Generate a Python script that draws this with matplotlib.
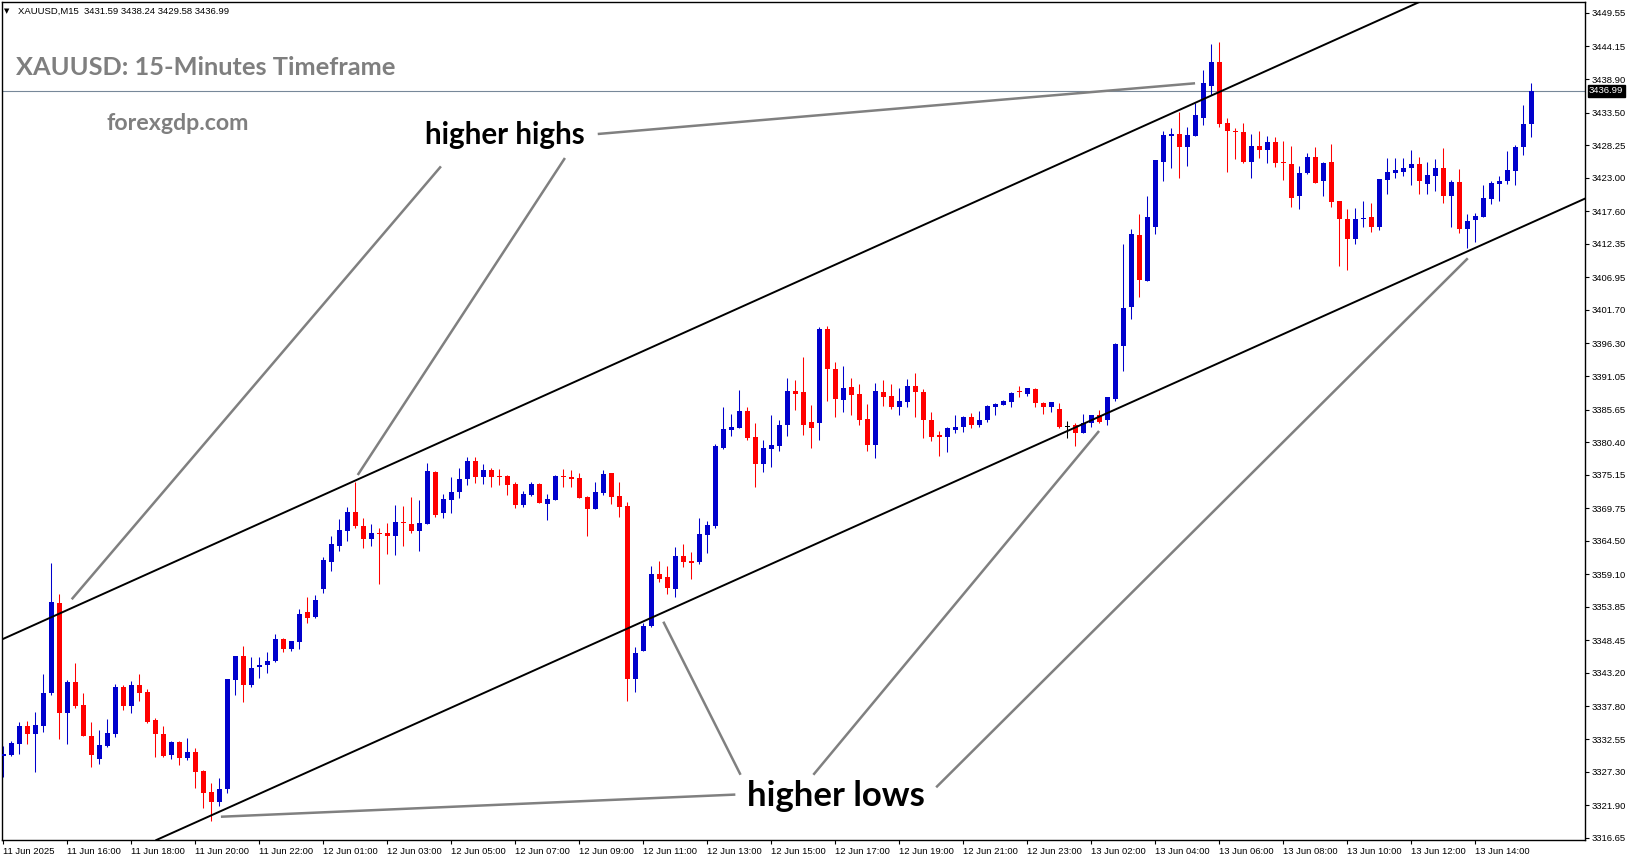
import matplotlib
matplotlib.use('Agg')
import matplotlib.pyplot as plt
import matplotlib.transforms as mtransforms
import numpy as np

W, H = 1631, 861
DPI = 100

# XAUUSD M15 bars, first bar 11 Jun 14:00
opens = [3329.8, 3330.0, 3331.8, 3334.6, 3333.3, 3334.6, 3339.9, 3354.5, 3336.8, 3341.7,
         3338.0, 3333.0, 3329.3, 3331.4, 3333.3, 3341.0, 3337.8, 3341.3, 3340.1, 3335.6,
         3333.4, 3329.9, 3332.1, 3329.5, 3330.5, 3327.4, 3324.0, 3322.4, 3324.5, 3342.1,
         3345.9, 3341.3, 3344.1, 3344.5, 3345.2, 3348.7, 3347.0, 3348.2, 3353.0, 3352.2,
         3356.8, 3361.1, 3363.6, 3366.1, 3369.1, 3366.8, 3364.8, 3365.7, 3365.7, 3365.3,
         3367.5, 3367.2, 3366.0, 3367.2, 3375.6, 3368.9, 3371.0, 3372.3, 3374.4, 3377.3,
         3374.7, 3375.9, 3374.9, 3374.9, 3373.6, 3370.2, 3371.9, 3373.6, 3370.5, 3371.1,
         3374.9, 3374.8, 3374.6, 3371.6, 3369.6, 3372.2, 3375.4, 3371.7, 3370.1, 3342.3,
         3346.8, 3350.7, 3359.1, 3358.6, 3356.7, 3362.0, 3361.2, 3361.0, 3365.5, 3366.9,
         3379.4, 3382.4, 3382.6, 3385.4, 3381.2, 3376.9, 3379.3, 3379.8, 3383.1, 3388.6,
         3388.5, 3383.6, 3383.5, 3398.6, 3392.1, 3387.2, 3389.2, 3388.2, 3384.1, 3380.0,
         3388.5, 3387.8, 3386.0, 3386.9, 3389.4, 3388.5, 3384.0, 3381.5, 3381.3, 3382.4,
         3382.9, 3384.4, 3383.2, 3383.9, 3386.0, 3386.4, 3386.9, 3388.5, 3388.2, 3389.0,
         3386.7, 3386.1, 3385.7, 3382.8, 3383.1, 3381.8, 3383.5, 3384.7, 3384.0, 3387.4,
         3395.9, 3402.1, 3413.8, 3406.4, 3415.1, 3425.6, 3429.8, 3430.0, 3427.9, 3429.7,
         3432.7, 3437.8, 3441.6, 3431.8, 3430.6, 3430.3, 3425.6, 3428.1, 3427.4, 3428.7,
         3425.5, 3425.2, 3420.1, 3423.7, 3426.3, 3422.4, 3425.5, 3419.2, 3416.4, 3413.2,
         3416.3, 3416.6, 3415.0, 3422.7, 3423.8, 3424.0, 3424.5, 3425.2, 3422.0, 3423.3,
         3424.6, 3420.1, 3422.3, 3414.8, 3416.2, 3416.7, 3419.6, 3422.0, 3422.5, 3424.1,
         3427.9, 3431.59]
highs = [3331.4, 3332.2, 3335.3, 3335.5, 3336.9, 3343.0, 3360.9, 3355.9, 3342.0, 3344.8,
         3339.9, 3335.3, 3334.0, 3335.8, 3341.4, 3341.2, 3341.9, 3343.0, 3340.6, 3335.9,
         3334.7, 3332.2, 3332.2, 3332.7, 3331.1, 3327.5, 3325.5, 3326.2, 3342.3, 3346.0,
         3347.5, 3345.7, 3345.7, 3346.6, 3349.5, 3348.8, 3348.4, 3353.5, 3355.5, 3355.7,
         3361.9, 3365.3, 3368.0, 3370.0, 3374.0, 3368.1, 3367.2, 3366.5, 3367.4, 3370.3,
         3370.1, 3371.6, 3371.1, 3377.0, 3375.7, 3372.0, 3374.8, 3376.3, 3378.0, 3378.0,
         3376.9, 3376.3, 3376.1, 3375.1, 3374.0, 3372.6, 3374.0, 3373.8, 3372.0, 3375.1,
         3376.1, 3375.9, 3375.4, 3371.7, 3373.9, 3375.9, 3375.5, 3374.0, 3370.8, 3347.4,
         3351.2, 3360.4, 3361.2, 3360.4, 3363.5, 3363.9, 3362.7, 3368.2, 3367.7, 3380.1,
         3386.1, 3384.9, 3388.8, 3386.0, 3383.5, 3380.7, 3384.8, 3384.0, 3390.7, 3390.4,
         3394.1, 3386.3, 3398.9, 3399.1, 3393.3, 3392.7, 3390.8, 3389.7, 3386.6, 3389.9,
         3390.4, 3389.8, 3389.1, 3390.6, 3391.5, 3388.9, 3385.3, 3382.2, 3382.8, 3384.7,
         3384.6, 3385.1, 3385.4, 3386.4, 3386.7, 3387.2, 3388.5, 3389.4, 3389.1, 3389.1,
         3386.9, 3386.8, 3386.7, 3383.8, 3383.4, 3385.0, 3384.8, 3385.6, 3387.6, 3396.3,
         3412.4, 3414.7, 3417.2, 3420.1, 3425.9, 3430.6, 3431.0, 3433.6, 3431.2, 3435.0,
         3440.3, 3444.5, 3444.8, 3432.6, 3431.0, 3431.8, 3430.0, 3430.6, 3429.8, 3429.5,
         3428.9, 3428.1, 3424.9, 3427.0, 3427.9, 3425.5, 3428.5, 3419.3, 3417.9, 3418.2,
         3419.2, 3418.9, 3422.8, 3426.2, 3426.2, 3426.2, 3427.5, 3426.3, 3425.5, 3426.0,
         3427.8, 3422.6, 3424.4, 3417.2, 3417.3, 3421.8, 3422.5, 3423.3, 3427.3, 3428.2,
         3434.7, 3438.24]
lows = [3326.4, 3329.8, 3330.1, 3331.8, 3327.3, 3333.7, 3339.7, 3332.6, 3331.8, 3337.6,
        3333.0, 3328.1, 3328.6, 3331.3, 3332.8, 3337.2, 3336.8, 3338.7, 3335.2, 3329.7,
        3329.7, 3329.3, 3328.3, 3329.1, 3324.7, 3321.5, 3319.4, 3321.8, 3323.9, 3339.7,
        3338.5, 3341.0, 3342.4, 3343.2, 3344.9, 3346.5, 3346.8, 3347.1, 3351.3, 3352.0,
        3356.1, 3359.7, 3362.9, 3364.5, 3366.6, 3363.4, 3363.6, 3357.6, 3362.4, 3362.2,
        3363.6, 3365.7, 3362.8, 3367.2, 3368.4, 3368.2, 3369.0, 3371.4, 3373.5, 3373.8,
        3373.6, 3373.2, 3373.5, 3371.8, 3369.7, 3370.0, 3371.7, 3370.6, 3367.9, 3371.1,
        3373.2, 3373.2, 3371.4, 3365.3, 3369.6, 3371.8, 3370.5, 3368.4, 3338.7, 3340.2,
        3346.8, 3350.6, 3357.8, 3356.0, 3355.5, 3360.2, 3358.3, 3360.8, 3362.6, 3366.6,
        3379.3, 3381.4, 3382.6, 3380.7, 3373.2, 3375.6, 3376.4, 3379.0, 3381.4, 3385.6,
        3381.6, 3379.5, 3380.8, 3387.1, 3384.5, 3385.3, 3384.7, 3383.2, 3378.9, 3377.9,
        3386.2, 3385.7, 3384.7, 3386.1, 3384.5, 3381.1, 3380.6, 3378.2, 3378.8, 3381.9,
        3382.1, 3382.6, 3382.9, 3383.7, 3384.8, 3386.3, 3386.1, 3387.7, 3387.9, 3386.0,
        3385.0, 3385.3, 3382.6, 3381.0, 3379.8, 3381.8, 3382.8, 3383.5, 3383.2, 3387.0,
        3391.9, 3400.3, 3403.8, 3406.4, 3414.0, 3422.4, 3424.6, 3422.9, 3424.9, 3429.7,
        3431.5, 3436.3, 3431.2, 3424.0, 3426.0, 3425.3, 3423.0, 3426.2, 3425.4, 3424.8,
        3422.6, 3418.3, 3418.0, 3423.6, 3422.2, 3420.1, 3418.3, 3408.7, 3408.1, 3412.4,
        3415.1, 3414.3, 3414.6, 3420.3, 3423.0, 3423.3, 3421.9, 3420.4, 3420.3, 3420.9,
        3419.0, 3415.0, 3414.1, 3411.6, 3412.7, 3416.7, 3418.8, 3419.3, 3422.0, 3421.9,
        3426.7, 3429.58]
closes = [3330.1, 3331.9, 3334.6, 3333.3, 3334.8, 3340.0, 3354.6, 3336.8, 3341.7, 3337.9,
          3333.1, 3330.0, 3331.6, 3333.6, 3340.9, 3337.8, 3341.2, 3340.0, 3335.3, 3333.3,
          3329.8, 3332.1, 3329.5, 3330.5, 3327.2, 3323.9, 3322.4, 3324.5, 3342.2, 3345.9,
          3341.3, 3344.0, 3344.5, 3345.1, 3348.7, 3347.0, 3348.3, 3352.7, 3352.0, 3355.0,
          3361.4, 3364.0, 3366.2, 3369.1, 3366.9, 3364.8, 3365.8, 3365.6, 3365.2, 3367.5,
          3367.3, 3366.0, 3367.4, 3375.7, 3368.7, 3371.2, 3372.4, 3374.5, 3377.3, 3374.7,
          3375.9, 3374.8, 3374.8, 3373.5, 3370.3, 3372.0, 3373.6, 3370.6, 3371.2, 3374.9,
          3374.7, 3374.5, 3371.4, 3369.6, 3372.4, 3375.3, 3371.6, 3370.0, 3342.3, 3346.4,
          3350.8, 3359.1, 3358.4, 3356.9, 3362.0, 3361.1, 3360.9, 3365.6, 3367.0, 3379.8,
          3382.5, 3382.9, 3385.4, 3381.1, 3376.8, 3379.4, 3379.9, 3383.2, 3388.6, 3388.2,
          3383.2, 3382.7, 3398.6, 3392.1, 3387.4, 3389.1, 3388.0, 3384.0, 3380.0, 3388.6,
          3387.7, 3386.0, 3387.0, 3389.4, 3388.5, 3383.9, 3381.3, 3381.3, 3382.6, 3382.8,
          3384.4, 3383.1, 3384.0, 3386.2, 3386.5, 3387.1, 3388.3, 3388.4, 3389.1, 3386.7,
          3386.1, 3386.8, 3382.8, 3382.8, 3381.8, 3383.5, 3384.8, 3383.7, 3387.6, 3396.2,
          3402.0, 3413.9, 3406.6, 3416.7, 3425.8, 3429.9, 3430.0, 3427.9, 3429.9, 3433.1,
          3438.3, 3441.7, 3431.7, 3430.6, 3430.3, 3425.5, 3428.1, 3427.4, 3428.7, 3425.4,
          3425.3, 3419.8, 3423.7, 3426.3, 3422.2, 3425.3, 3419.1, 3416.4, 3413.2, 3416.4,
          3416.5, 3415.0, 3422.8, 3423.9, 3424.2, 3424.6, 3425.2, 3422.4, 3423.4, 3424.6,
          3420.1, 3422.3, 3414.8, 3416.0, 3416.8, 3419.7, 3422.2, 3422.5, 3424.2, 3428.0,
          3431.6, 3436.99]

price_ticks = [3449.55, 3444.15, 3438.90, 3433.50, 3428.25, 3423.00, 3417.60, 3412.35,
               3406.95, 3401.70, 3396.30, 3391.05, 3385.65, 3380.40, 3375.15, 3369.75,
               3364.50, 3359.10, 3353.85, 3348.45, 3343.20, 3337.80, 3332.55, 3327.30,
               3321.90, 3316.65]
time_labels = ['11 Jun 2025', '11 Jun 16:00', '11 Jun 18:00', '11 Jun 20:00', '11 Jun 22:00',
               '12 Jun 01:00', '12 Jun 03:00', '12 Jun 05:00', '12 Jun 07:00', '12 Jun 09:00',
               '12 Jun 11:00', '12 Jun 13:00', '12 Jun 15:00', '12 Jun 17:00', '12 Jun 19:00',
               '12 Jun 21:00', '12 Jun 23:00', '13 Jun 02:00', '13 Jun 04:00', '13 Jun 06:00',
               '13 Jun 08:00', '13 Jun 10:00', '13 Jun 12:00', '13 Jun 14:00']
bars_per_label = 8
last_price = 3436.99
header = 'XAUUSD,M15  3431.59 3438.24 3429.58 3436.99'

# channel trendlines (bar index, price)
upper_channel = [(0.0, 3348.7), (169.2, 3446.8)]
lower_channel = [(19.6, 3316.55), (189.6, 3414.95)]

# pointer lines (bar index, price)
hh_pointers = [[(74.3, 3430.05), (148.96, 3438.22)],
               [(54.7, 3424.83), (8.55, 3355.07)],
               [(70.2, 3426.18), (44.3, 3375.1)]]
hl_pointers = [[(27.2, 3320.03), (91.5, 3323.6)],
               [(82.5, 3351.46), (92.15, 3326.79)],
               [(101.25, 3326.79), (136.96, 3382.19)],
               [(116.6, 3324.77), (183.05, 3410.02)]]

BLUE = '#0000CC'
RED = '#FF0000'
GRAY = '#808080'

plt.rcParams['font.family'] = ['Liberation Sans', 'DejaVu Sans']


def fx(px):
    return px / W


def fy(py):
    return 1 - py / H


fig = plt.figure(figsize=(W / DPI, H / DPI), dpi=DPI)
fig.patch.set_facecolor('white')
ax = fig.add_axes([fx(2.3), fy(840), (1585 - 2.3) / W, 838 / H])

n = len(opens)
x = np.arange(n)
o = np.array(opens)
c = np.array(closes)
colors = np.where(c > o, BLUE, np.where(c < o, RED, 'black'))

ax.vlines(x, lows, highs, colors=colors, lw=0.75, zorder=2)
body_lo = np.minimum(o, c)
body_h = np.maximum(np.abs(c - o), 0.17)
ax.bar(x, body_h, bottom=body_lo, width=0.62, color=colors, linewidth=0, zorder=3)

ax.axhline(last_price, color='#778899', lw=0.8, zorder=1)

ax.axline(upper_channel[0], upper_channel[1], color='black', lw=1.4, zorder=4)
ax.axline(lower_channel[0], lower_channel[1], color='black', lw=1.4, zorder=4)

for (p1, p2) in hh_pointers + hl_pointers:
    ax.plot([p1[0], p2[0]], [p1[1], p2[1]], color=GRAY, lw=1.8,
            solid_capstyle='butt', zorder=5)

ax.set_xlim(-0.125, 197.7)
ax.set_ylim(3316.28, 3451.32)

ax.yaxis.tick_right()
ax.set_yticks(price_ticks)
ax.set_yticklabels([f'{v:.2f}' for v in price_ticks])
ax.tick_params(axis='y', direction='out', length=3, width=0.8, pad=2,
               labelsize=6.8, colors='black')

xt = list(range(0, bars_per_label * len(time_labels), bars_per_label))
ax.set_xticks(xt)
ax.set_xticklabels(time_labels)
ax.tick_params(axis='x', direction='out', length=3, width=0.8, pad=2,
               labelsize=6.8, colors='black')
for lbl in ax.get_xticklabels():
    lbl.set_ha('left')

for s in ax.spines.values():
    s.set_color('black')
    s.set_linewidth(1.0)

# current price tag
trans = mtransforms.blended_transform_factory(ax.transAxes, ax.transData)
ax.text(1.0025, last_price, f'{last_price:.2f}', transform=trans, ha='left', va='center',
        color='white', fontsize=6.8, clip_on=False,
        bbox=dict(boxstyle='square,pad=0.15', fc='black', ec='black'))

# header and captions
fig.text(fx(4), fy(11), '\u25bc', fontsize=5, va='center', ha='left', color='black',
         family=['DejaVu Sans'])
fig.text(fx(18), fy(11), header, fontsize=6.8, va='center', ha='left', color='black')
fig.text(fx(16.5), fy(75), 'XAUUSD: 15-Minutes Timeframe', fontsize=18.3, fontweight='bold',
         color='#7f7f7f', family=['Lato', 'DejaVu Sans'], va='baseline', ha='left')
fig.text(fx(106.5), fy(130), 'forexgdp.com', fontsize=16.7, fontweight='bold',
         color='#7f7f7f', family=['Lato', 'DejaVu Sans'], va='baseline', ha='left')
fig.text(fx(425), fy(144), 'higher highs', fontsize=21.3, fontweight='bold',
         color='black', family=['Lato', 'DejaVu Sans'], va='baseline', ha='left')
fig.text(fx(747), fy(806), 'higher lows', fontsize=25, fontweight='bold',
         color='black', family=['Lato', 'DejaVu Sans'], va='baseline', ha='left')

fig.savefig('out.png', dpi=DPI)
